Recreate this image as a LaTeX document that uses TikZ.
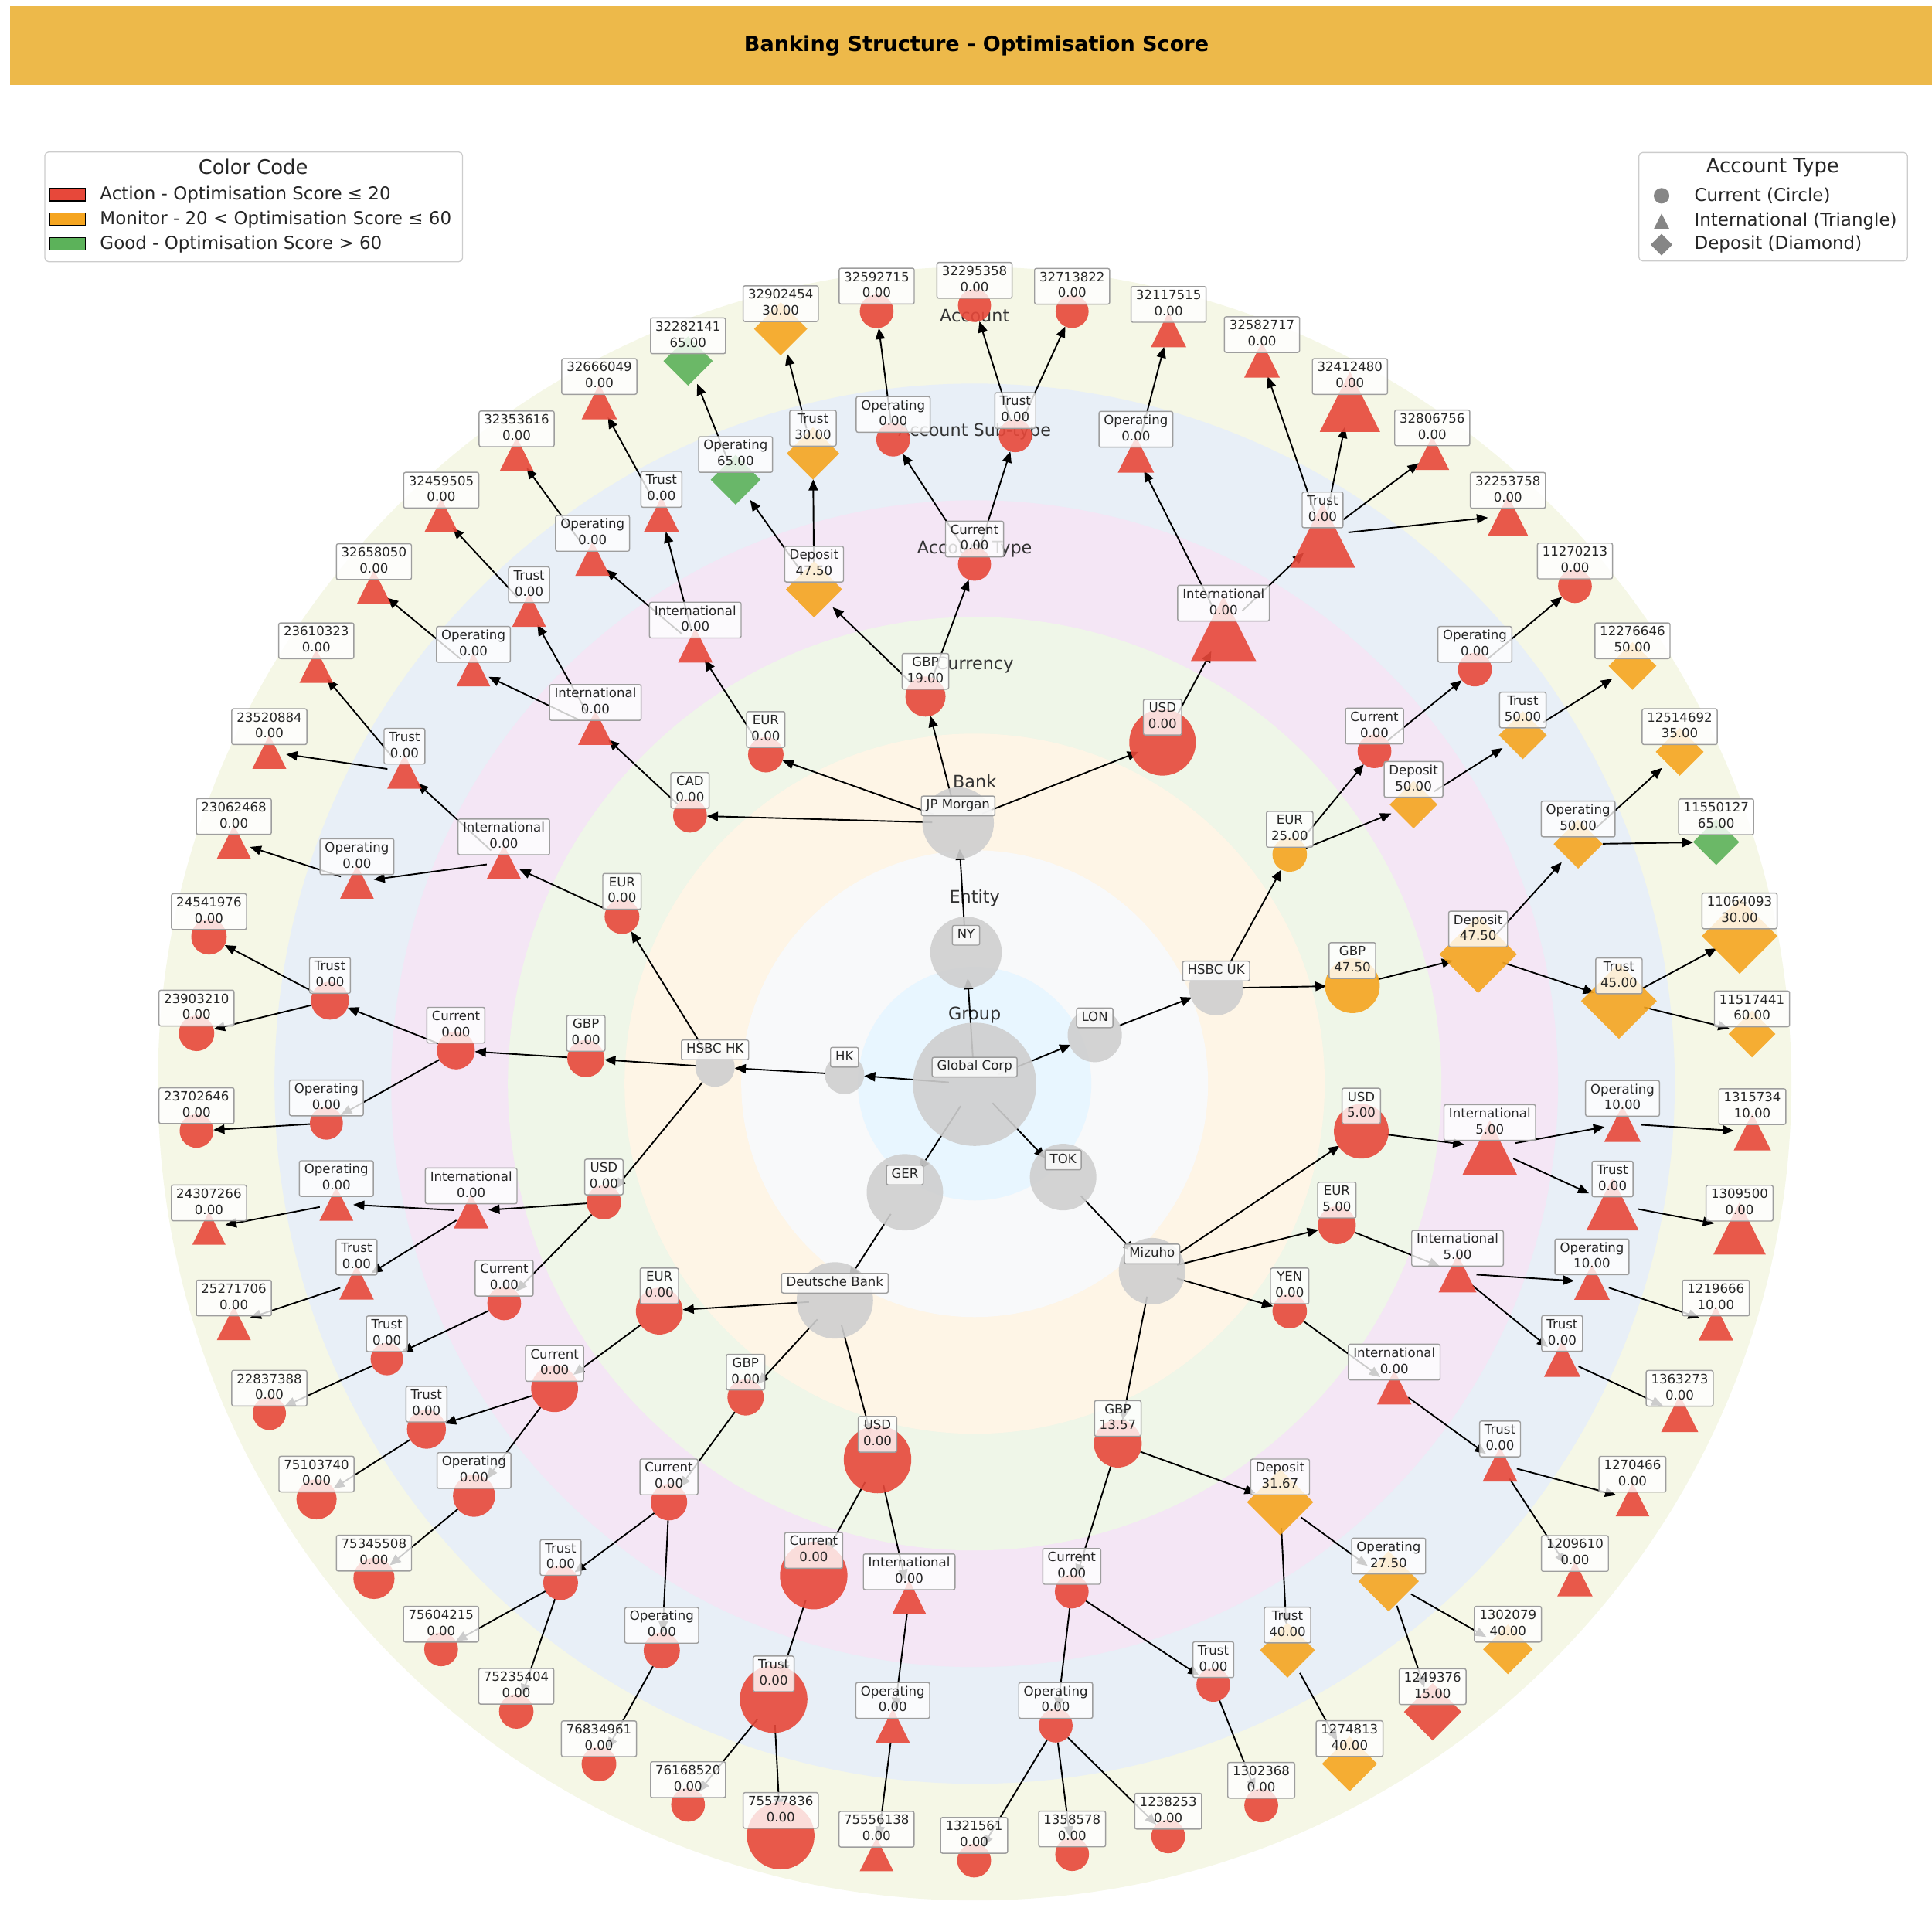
\documentclass[tikz,border=0pt]{standalone}
\usepackage{fontspec}
\setmainfont{DejaVu Sans}
\usetikzlibrary{arrows.meta}
\definecolor{actred}{RGB}{231,72,58}
\definecolor{monorange}{RGB}{245,165,32}
\definecolor{goodgreen}{RGB}{92,178,90}
\definecolor{unitgrey}{RGB}{207,207,207}
\definecolor{legendgrey}{RGB}{134,134,134}
\definecolor{titlegold}{RGB}{237,185,74}
\definecolor{ringA}{RGB}{232,246,255}
\definecolor{ringB}{RGB}{248,249,250}
\definecolor{ringC}{RGB}{254,245,230}
\definecolor{ringD}{RGB}{239,246,232}
\definecolor{ringE}{RGB}{244,230,245}
\definecolor{ringF}{RGB}{232,239,247}
\definecolor{ringG}{RGB}{245,247,230}
\newcommand{\lblfont}{\fontsize{10.4}{13}\selectfont}
\newcommand{\ringfont}{\fontsize{14}{16}\selectfont}
\newcommand{\legfont}{\fontsize{14.4}{17}\selectfont}
\newcommand{\legtitlefont}{\fontsize{16.2}{19}\selectfont}
\newcommand{\titlefont}{\fontsize{17}{20}\selectfont\bfseries}
\pgfdeclarelayer{rings}
\pgfdeclarelayer{edges}
\pgfdeclarelayer{labels}
\pgfsetlayers{rings,edges,main,labels}
\tikzset{
  port/.style={circle, inner sep=0pt, outer sep=0pt},
  lbl/.style={draw=black!38, line width=0.9pt, rounded corners=1.5pt,
              fill=white, fill opacity=0.8, text opacity=1, text=black!85,
              inner xsep=4pt, inner ysep=1.5pt, align=center,
              font=\lblfont, anchor=south},
  edge/.style={-{Triangle[length=9pt,width=7.5pt]}, black, line width=1.2pt},
  ringlbl/.style={font=\ringfont, text=black!80},
  legframe/.style={draw=black!20, line width=0.8pt, rounded corners=3pt,
                   fill=white, anchor=north west},
  swatch/.style={draw=black, line width=0.8pt, minimum width=29pt,
                 minimum height=10pt, inner sep=0pt},
  legtxt/.style={font=\legfont, text=black!85, anchor=west, inner sep=0pt},
  pics/cmark/.style={code={\fill[pic actions] (0,0) circle (#1pt);}},
  pics/tmark/.style={code={\fill[pic actions] (0,-#1) -- (#1,#1) -- (-#1,#1) -- cycle;}},
  pics/dmark/.style={code={\fill[pic actions] (0,-#1) -- (#1,0) -- (0,#1) -- (-#1,0) -- cycle;}},
}
% id, x, y, marker, colour, size, name, score
\newcommand{\acctnode}[8]{%
  \pgfmathsetmacro{\portd}{2*min(#6,21)}%
  \node[port, minimum size=\portd pt] (#1) at (#2,#3) {};
  \pic[fill=#5, fill opacity=0.9] at (#2,#3) {#4=#6};
  \begin{pgfonlayer}{labels}
    \node[lbl] (#1-l) at ([yshift=5.5pt]#1.center) {\strut #7\\\strut #8};
  \end{pgfonlayer}%
}
% id, x, y, size, name
\newcommand{\orgnode}[5]{%
  \pgfmathsetmacro{\portd}{2*min(#4,21)}%
  \node[port, minimum size=\portd pt] (#1) at (#2,#3) {};
  \pic[fill=unitgrey, fill opacity=0.9] at (#2,#3) {cmark=#4};
  \begin{pgfonlayer}{labels}
    \node[lbl] (#1-l) at ([yshift=5.5pt]#1.center) {\strut #5};
  \end{pgfonlayer}%
}
\begin{document}
\begin{tikzpicture}[x=1pt, y=-1pt]
\useasboundingbox (0,0) rectangle (1568,1568);

% title bar
\fill[titlegold] (8,5) rectangle (1568,69);
\node[font=\titlefont] (title) at (792.5,37) {Banking Structure - Optimisation Score};

% rings
\begin{pgfonlayer}{rings}
\foreach \r/\c in {662.9/ringG, 568.2/ringF, 473.5/ringE, 378.8/ringD,
                   284.1/ringC, 189.4/ringB, 94.7/ringA}
  \fill[\c] (791,879.5) circle (\r pt);
\foreach \y/\t [count=\i] in {824/Group, 729/Entity, 634/Bank, 540/Currency,
    445.5/Account Type, 350.5/Account Sub-type, 256/Account}
  \node[ringlbl] (ring\i) at (791,\y) {\t};
\end{pgfonlayer}

% group, entities, banks
\orgnode{gc}{791}{880}{50}{Global Corp}
\orgnode{ny}{784}{773}{29}{NY}
\orgnode{lon}{888.5}{840}{22}{LON}
\orgnode{hk}{685.4}{872}{16}{HK}
\orgnode{ger}{734.4}{967.6}{31}{GER}
\orgnode{tok}{862.8}{955.3}{27}{TOK}
\orgnode{jpm}{777.6}{668}{29}{JP Morgan}
\orgnode{hsuk}{987}{802}{22}{HSBC UK}
\orgnode{hshk}{580.3}{866}{16}{HSBC HK}
\orgnode{db}{677.6}{1055.4}{31}{Deutsche Bank}
\orgnode{miz}{935}{1031.7}{27}{Mizuho}

% JP Morgan
\acctnode{cad}{560}{662}{cmark}{actred}{13.7}{CAD}{0.00}
\acctnode{cadi}{483.2}{590.6}{tmark}{actred}{14}{International}{0.00}
\acctnode{cadio}{384.2}{543.4}{tmark}{actred}{13.7}{Operating}{0.00}
\acctnode{a32658050}{303.5}{476.3}{tmark}{actred}{13.8}{32658050}{0.00}
\acctnode{cadit}{429.4}{495}{tmark}{actred}{13.7}{Trust}{0.00}
\acctnode{a32459505}{358.1}{418.3}{tmark}{actred}{13.7}{32459505}{0.00}
\acctnode{jeur}{621.5}{612.5}{cmark}{actred}{14.4}{EUR}{0.00}
\acctnode{jeuri}{564.3}{523.7}{tmark}{actred}{14}{International}{0.00}
\acctnode{jeurio}{480.9}{453.3}{tmark}{actred}{14}{Operating}{0.00}
\acctnode{a32353616}{419.3}{368.5}{tmark}{actred}{13.7}{32353616}{0.00}
\acctnode{jeurit}{536.8}{417.6}{tmark}{actred}{14.4}{Trust}{0.00}
\acctnode{a32666049}{486.4}{326}{tmark}{actred}{14.4}{32666049}{0.00}
\acctnode{jgbp}{751.1}{565.3}{cmark}{actred}{16.3}{GBP}{19.00}
\acctnode{jdep}{660.7}{478.3}{dmark}{monorange}{22.8}{Deposit}{47.50}
\acctnode{jdepo}{597}{389.3}{dmark}{goodgreen}{20.2}{Operating}{65.00}
\acctnode{a32282141}{558.4}{293}{dmark}{goodgreen}{20}{32282141}{65.00}
\acctnode{jdept}{659.8}{368}{dmark}{monorange}{21.3}{Trust}{30.00}
\acctnode{a32902454}{633.6}{266.9}{dmark}{monorange}{21.6}{32902454}{30.00}
\acctnode{jcur}{790.9}{457.9}{cmark}{actred}{13.4}{Current}{0.00}
\acctnode{jcuro}{724.9}{356.8}{cmark}{actred}{13.7}{Operating}{0.00}
\acctnode{a32592715}{711.5}{252.7}{cmark}{actred}{13.7}{32592715}{0.00}
\acctnode{jcurt}{824}{353.6}{cmark}{actred}{13.4}{Trust}{0.00}
\acctnode{a32295358}{790.9}{248}{cmark}{actred}{13.4}{32295358}{0.00}
\acctnode{a32713822}{870.1}{252.8}{cmark}{actred}{13.4}{32713822}{0.00}
\acctnode{jusd}{943.5}{602.5}{cmark}{actred}{27}{USD}{0.00}
\acctnode{jusdi}{993}{510}{tmark}{actred}{26.5}{International}{0.00}
\acctnode{jusdio}{921.9}{368.9}{tmark}{actred}{14.7}{Operating}{0.00}
\acctnode{a32117515}{948.4}{267.5}{tmark}{actred}{14.4}{32117515}{0.00}
\acctnode{jusdit}{1073.4}{434.3}{tmark}{actred}{26.4}{Trust}{0.00}
\acctnode{a32582717}{1024.2}{292}{tmark}{actred}{14.4}{32582717}{0.00}
\acctnode{a32412480}{1095.6}{326}{tmark}{actred}{24.5}{32412480}{0.00}
\acctnode{a32806756}{1162.4}{367.7}{tmark}{actred}{13.7}{32806756}{0.00}
\acctnode{a32253758}{1223.8}{418.4}{tmark}{actred}{16.3}{32253758}{0.00}

% HSBC UK
\acctnode{ueur}{1046.7}{693.5}{cmark}{monorange}{14}{EUR}{25.00}
\acctnode{ueurc}{1115.5}{609.7}{cmark}{actred}{13.7}{Current}{0.00}
\acctnode{ueurco}{1197}{543.4}{cmark}{actred}{13.7}{Operating}{0.00}
\acctnode{a11270213}{1278.2}{475.7}{cmark}{actred}{13.7}{11270213}{0.00}
\acctnode{ueurd}{1147.2}{653}{dmark}{monorange}{19.4}{Deposit}{50.00}
\acctnode{ueurdt}{1235.9}{596.7}{dmark}{monorange}{19.4}{Trust}{50.00}
\acctnode{a12276646}{1324.9}{540.5}{dmark}{monorange}{19.4}{12276646}{50.00}
\acctnode{ugbp}{1097.6}{800}{cmark}{monorange}{22.2}{GBP}{47.50}
\acctnode{ugbpd}{1199.6}{774.5}{dmark}{monorange}{31.4}{Deposit}{47.50}
\acctnode{ugbpdo}{1280.8}{685.1}{dmark}{monorange}{19.9}{Operating}{50.00}
\acctnode{a12514692}{1363.2}{610.2}{dmark}{monorange}{19.4}{12514692}{35.00}
\acctnode{a11550127}{1392.8}{683.4}{dmark}{goodgreen}{18.7}{11550127}{65.00}
\acctnode{ugbpdt}{1313.9}{812.4}{dmark}{monorange}{30.7}{Trust}{45.00}
\acctnode{a11064093}{1411.8}{759.7}{dmark}{monorange}{30.7}{11064093}{30.00}
\acctnode{a11517441}{1421.9}{839.2}{dmark}{monorange}{19}{11517441}{60.00}

% HSBC HK
\acctnode{keur}{504.8}{743.9}{cmark}{actred}{14.1}{EUR}{0.00}
\acctnode{keuri}{408.9}{699.7}{tmark}{actred}{14}{International}{0.00}
\acctnode{keurio}{289.7}{715.7}{tmark}{actred}{13.7}{Operating}{0.00}
\acctnode{a23062468}{189.8}{683.1}{tmark}{actred}{13.8}{23062468}{0.00}
\acctnode{keurit}{328.3}{626.1}{tmark}{actred}{14}{Trust}{0.00}
\acctnode{a23610323}{256.7}{540.5}{tmark}{actred}{13.7}{23610323}{0.00}
\acctnode{a23520884}{218.6}{610.2}{tmark}{actred}{13.8}{23520884}{0.00}
\acctnode{kgbp}{475.5}{859.1}{cmark}{actred}{15.1}{GBP}{0.00}
\acctnode{kgbpc}{370}{852.5}{cmark}{actred}{15.4}{Current}{0.00}
\acctnode{kgbpct}{267.8}{812.1}{cmark}{actred}{15.4}{Trust}{0.00}
\acctnode{a24541976}{169.6}{760.3}{cmark}{actred}{14.4}{24541976}{0.00}
\acctnode{a23903210}{159.5}{838.6}{cmark}{actred}{14.4}{23903210}{0.00}
\acctnode{kgbpco}{264.9}{911.5}{cmark}{actred}{13.4}{Operating}{0.00}
\acctnode{a23702646}{159.5}{917.8}{cmark}{actred}{13.7}{23702646}{0.00}
\acctnode{kusd}{490.1}{975.7}{cmark}{actred}{14}{USD}{0.00}
\acctnode{kusdi}{382.4}{982.9}{tmark}{actred}{14.1}{International}{0.00}
\acctnode{kusdio}{273}{977}{tmark}{actred}{13.7}{Operating}{0.00}
\acctnode{a24307266}{169.6}{996.7}{tmark}{actred}{13.5}{24307266}{0.00}
\acctnode{kusdit}{289.4}{1040.7}{tmark}{actred}{14}{Trust}{0.00}
\acctnode{a25271706}{189.8}{1073.9}{tmark}{actred}{13.8}{25271706}{0.00}
\acctnode{kusdc}{409.2}{1057.8}{cmark}{actred}{13.7}{Current}{0.00}
\acctnode{kusdct}{314}{1103}{cmark}{actred}{13.2}{Trust}{0.00}
\acctnode{a22837388}{218.6}{1147.1}{cmark}{actred}{13.5}{22837388}{0.00}

% Deutsche Bank
\acctnode{deur}{535.1}{1064.1}{cmark}{actred}{19}{EUR}{0.00}
\acctnode{deurc}{450.1}{1127}{cmark}{actred}{19}{Current}{0.00}
\acctnode{deurct}{346.1}{1160}{cmark}{actred}{15.8}{Trust}{0.00}
\acctnode{a75103740}{256.9}{1216.8}{cmark}{actred}{16.3}{75103740}{0.00}
\acctnode{deurco}{384.7}{1213.9}{cmark}{actred}{17.1}{Operating}{0.00}
\acctnode{a75345508}{303.5}{1281}{cmark}{actred}{16.7}{75345508}{0.00}
\acctnode{dgbp}{605.1}{1134.1}{cmark}{actred}{14.7}{GBP}{0.00}
\acctnode{dgbpc}{542.9}{1219.1}{cmark}{actred}{14.8}{Current}{0.00}
\acctnode{dgbpct}{455}{1284.5}{cmark}{actred}{14.1}{Trust}{0.00}
\acctnode{a75604215}{358}{1338.6}{cmark}{actred}{13.7}{75604215}{0.00}
\acctnode{a75235404}{419}{1389}{cmark}{actred}{14}{75235404}{0.00}
\acctnode{dgbpco}{537.1}{1339.5}{cmark}{actred}{14.7}{Operating}{0.00}
\acctnode{a76834961}{486.1}{1431.6}{cmark}{actred}{14.1}{76834961}{0.00}
\acctnode{dusd}{712.2}{1184.5}{cmark}{actred}{27.4}{USD}{0.00}
\acctnode{dusdc}{660.4}{1278.7}{cmark}{actred}{27.4}{Current}{0.00}
\acctnode{dusdct}{627.9}{1379}{cmark}{actred}{27.4}{Trust}{0.00}
\acctnode{a76168520}{558.4}{1464.8}{cmark}{actred}{13.7}{76168520}{0.00}
\acctnode{a75577836}{633.6}{1489.8}{cmark}{actred}{27.4}{75577836}{0.00}
\acctnode{dusdi}{737.9}{1296.1}{tmark}{actred}{13.7}{International}{0.00}
\acctnode{dusdio}{724.6}{1400.5}{tmark}{actred}{13.8}{Operating}{0.00}
\acctnode{a75556138}{711.4}{1505}{tmark}{actred}{13.7}{75556138}{0.00}

% Mizuho
\acctnode{musd}{1104.8}{918.1}{cmark}{actred}{22.2}{USD}{5.00}
\acctnode{musdi}{1209.1}{931.5}{tmark}{actred}{22.3}{International}{5.00}
\acctnode{musdio}{1316.8}{911.9}{tmark}{actred}{14.8}{Operating}{10.00}
\acctnode{a1315734}{1422.2}{918.6}{tmark}{actred}{15.1}{1315734}{10.00}
\acctnode{musdit}{1308.7}{977.3}{tmark}{actred}{21.2}{Trust}{0.00}
\acctnode{a1309500}{1411.8}{996.9}{tmark}{actred}{21.2}{1309500}{0.00}
\acctnode{meur}{1085}{994.4}{cmark}{actred}{15.4}{EUR}{5.00}
\acctnode{meuri}{1182.9}{1033.5}{tmark}{actred}{15.4}{International}{5.00}
\acctnode{meurio}{1292}{1040.5}{tmark}{actred}{14.4}{Operating}{10.00}
\acctnode{a1219666}{1392.6}{1073.9}{tmark}{actred}{14.1}{1219666}{10.00}
\acctnode{meurit}{1267.8}{1102.7}{tmark}{actred}{14.7}{Trust}{0.00}
\acctnode{a1363273}{1363.2}{1147.2}{tmark}{actred}{15.1}{1363273}{0.00}
\acctnode{myen}{1046.7}{1064.1}{cmark}{actred}{14}{YEN}{0.00}
\acctnode{myeni}{1131.6}{1125.9}{tmark}{actred}{14}{International}{0.00}
\acctnode{myenit}{1217.4}{1188.3}{tmark}{actred}{14.1}{Trust}{0.00}
\acctnode{a1270466}{1324.9}{1216.9}{tmark}{actred}{13.7}{1270466}{0.00}
\acctnode{a1209610}{1278.2}{1281.2}{tmark}{actred}{14.3}{1209610}{0.00}
\acctnode{mgbp}{907.2}{1171.6}{cmark}{actred}{19.4}{GBP}{13.57}
\acctnode{mgbpd}{1038.9}{1219.1}{dmark}{monorange}{26.9}{Deposit}{31.67}
\acctnode{mgbpdt}{1044.9}{1339.3}{dmark}{monorange}{22.3}{Trust}{40.00}
\acctnode{a1274813}{1095.3}{1431.5}{dmark}{monorange}{22.3}{1274813}{40.00}
\acctnode{mgbpdo}{1127}{1283.3}{dmark}{monorange}{24.5}{Operating}{27.50}
\acctnode{a1249376}{1162.7}{1389.3}{dmark}{actred}{23.3}{1249376}{15.00}
\acctnode{a1302079}{1223.8}{1338.6}{dmark}{monorange}{20.2}{1302079}{40.00}
\acctnode{mgbpc}{869.8}{1291.7}{cmark}{actred}{13.7}{Current}{0.00}
\acctnode{mgbpco}{856.8}{1400.5}{cmark}{actred}{13.7}{Operating}{0.00}
\acctnode{a1321561}{790.6}{1510}{cmark}{actred}{13.7}{1321561}{0.00}
\acctnode{a1358578}{870.1}{1504.8}{cmark}{actred}{13.7}{1358578}{0.00}
\acctnode{a1238253}{948.1}{1490.4}{cmark}{actred}{13.7}{1238253}{0.00}
\acctnode{mgbpct}{984.7}{1367.4}{cmark}{actred}{13.7}{Trust}{0.00}
\acctnode{a1302368}{1023.6}{1465.3}{cmark}{actred}{13.7}{1302368}{0.00}

% connectors
\begin{pgfonlayer}{edges}
\foreach \a/\b in {gc/ny, gc/lon, gc/hk, gc/ger, gc/tok,
    ny/jpm, lon/hsuk, hk/hshk, ger/db, tok/miz,
    jpm/cad, jpm/jeur, jpm/jgbp, jpm/jusd,
    cad/cadi, cadi/cadio, cadio/a32658050, cadi/cadit, cadit/a32459505,
    jeur/jeuri, jeuri/jeurio, jeurio/a32353616, jeuri/jeurit, jeurit/a32666049,
    jgbp/jdep, jdep/jdepo, jdepo/a32282141, jdep/jdept, jdept/a32902454,
    jgbp/jcur, jcur/jcuro, jcuro/a32592715, jcur/jcurt,
    jcurt/a32295358, jcurt/a32713822,
    jusd/jusdi, jusdi/jusdio, jusdio/a32117515, jusdi/jusdit,
    jusdit/a32582717, jusdit/a32412480, jusdit/a32806756, jusdit/a32253758,
    hsuk/ueur, ueur/ueurc, ueurc/ueurco, ueurco/a11270213,
    ueur/ueurd, ueurd/ueurdt, ueurdt/a12276646,
    hsuk/ugbp, ugbp/ugbpd, ugbpd/ugbpdo, ugbpdo/a12514692, ugbpdo/a11550127,
    ugbpd/ugbpdt, ugbpdt/a11064093, ugbpdt/a11517441,
    hshk/keur, keur/keuri, keuri/keurio, keurio/a23062468,
    keuri/keurit, keurit/a23610323, keurit/a23520884,
    hshk/kgbp, kgbp/kgbpc, kgbpc/kgbpct, kgbpct/a24541976, kgbpct/a23903210,
    kgbpc/kgbpco, kgbpco/a23702646,
    hshk/kusd, kusd/kusdi, kusdi/kusdio, kusdio/a24307266,
    kusdi/kusdit, kusdit/a25271706, kusd/kusdc, kusdc/kusdct, kusdct/a22837388,
    db/deur, deur/deurc, deurc/deurct, deurct/a75103740,
    deurc/deurco, deurco/a75345508,
    db/dgbp, dgbp/dgbpc, dgbpc/dgbpct, dgbpct/a75604215, dgbpct/a75235404,
    dgbpc/dgbpco, dgbpco/a76834961,
    db/dusd, dusd/dusdc, dusdc/dusdct, dusdct/a76168520, dusdct/a75577836,
    dusd/dusdi, dusdi/dusdio, dusdio/a75556138,
    miz/musd, musd/musdi, musdi/musdio, musdio/a1315734,
    musdi/musdit, musdit/a1309500,
    miz/meur, meur/meuri, meuri/meurio, meurio/a1219666,
    meuri/meurit, meurit/a1363273,
    miz/myen, myen/myeni, myeni/myenit, myenit/a1270466, myenit/a1209610,
    miz/mgbp, mgbp/mgbpd, mgbpd/mgbpdt, mgbpdt/a1274813,
    mgbpd/mgbpdo, mgbpdo/a1249376, mgbpdo/a1302079,
    mgbp/mgbpc, mgbpc/mgbpco, mgbpco/a1321561, mgbpco/a1358578,
    mgbpco/a1238253, mgbpc/mgbpct, mgbpct/a1302368}
  \draw[edge] (\a) -- (\b);
\end{pgfonlayer}

% legend: colour code
\node[legframe, minimum width=339pt, minimum height=89pt] (colleg) at (36,123) {};
\node[font=\legtitlefont, text=black!85] (colleg-t) at (205.5,135.5) {Color Code};
\foreach \y/\c/\t [count=\i] in {158/actred/{Action - Optimisation Score ≤ 20},
    178/monorange/{Monitor - 20 < Optimisation Score ≤ 60},
    198/goodgreen/{Good - Optimisation Score > 60}} {
  \node[swatch, fill=\c] (sw\i) at (55,\y) {};
  \node[legtxt] (swt\i) at (81,\y) {\t};
}

% legend: account type
\node[legframe, minimum width=218pt, minimum height=88pt] (typeleg) at (1329.7,123.4) {};
\node[font=\legtitlefont, text=black!85] (typeleg-t) at (1438.7,135.9) {Account Type};
\pic[fill=legendgrey] at (1348.5,158.9) {cmark=6.3};
\pic[fill=legendgrey] at (1348.5,179.4) {tmark=6.2};
\pic[fill=legendgrey] at (1348.5,198.6) {dmark=8.8};
\node[legtxt] (typt1) at (1375,158.9) {Current (Circle)};
\node[legtxt] (typt2) at (1375,179.4) {International (Triangle)};
\node[legtxt] (typt3) at (1375,198.6) {Deposit (Diamond)};
\end{tikzpicture}
\end{document}
